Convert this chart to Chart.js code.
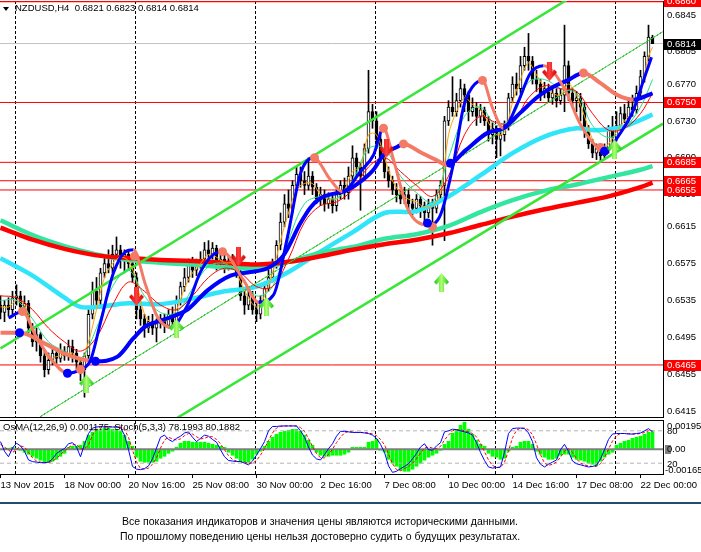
<!DOCTYPE html>
<html><head><meta charset="utf-8">
<script src="https://cdn.jsdelivr.net/npm/chart.js@4.4.1/dist/chart.umd.min.js"></script>
<style>
html,body{margin:0;padding:0;background:#fff;width:701px;height:552px;overflow:hidden;position:relative;font-family:"Liberation Sans",Arial,sans-serif;}
canvas{position:absolute;left:0;}
#c1{top:0;width:701px;height:419px;}
#c2{top:418px;width:701px;height:82px;}
.t{position:absolute;white-space:nowrap;color:#000;}
</style></head><body>
<canvas id="c1" width="701" height="419"></canvas>
<canvas id="c2" width="701" height="82"></canvas>
<div id="tri" style="position:absolute;left:3px;top:7px;width:0;height:0;border-left:3px solid transparent;border-right:3px solid transparent;border-top:4px solid #000;"></div>
<div class="t" style="left:15px;top:2px;font-size:9.5px;line-height:12px;">NZDUSD,H4&nbsp;&nbsp;0.6821 0.6823 0.6814 0.6814</div>
<div class="t" style="left:3px;top:421px;font-size:9.5px;line-height:12px;">OsMA(12,26,9) 0.001175&nbsp;&nbsp;Stoch(5,3,3) 78.1993 80.1882</div>
<div style="position:absolute;left:0;top:502px;width:701px;height:2px;background:#1f4e6e;"></div>
<div class="t" style="left:0;width:640px;text-align:center;top:514px;font-size:10.5px;line-height:15px;">Все показания индикаторов и значения цены являются историческими данными.<br>По прошлому поведению цены нельзя достоверно судить о будущих результатах.</div>
<script>
// ---------- DATA ----------
const opens=[0.6530,0.6522,0.6530,0.6525,0.6538,0.6540,0.6528,0.6532,0.6505,0.6490,
0.6498,0.6475,0.6460,0.6470,0.6478,0.6472,0.6480,0.6475,0.6485,0.6478,
0.6468,0.6460,0.6475,0.6520,0.6545,0.6535,0.6565,0.6575,0.6570,0.6585,
0.6590,0.6578,0.6585,0.6575,0.6560,0.6525,0.6515,0.6505,0.6512,0.6505,
0.6510,0.6515,0.6508,0.6520,0.6512,0.6535,0.6550,0.6560,0.6575,0.6568,
0.6575,0.6580,0.6590,0.6585,0.6592,0.6575,0.6580,0.6572,0.6578,0.6575,
0.6565,0.6540,0.6530,0.6540,0.6525,0.6520,0.6535,0.6548,0.6560,0.6575,
0.6595,0.6620,0.6640,0.6635,0.6660,0.6672,0.6665,0.6660,0.6670,0.6658,
0.6645,0.6650,0.6640,0.6645,0.6638,0.6650,0.6660,0.6652,0.6670,0.6690,
0.6680,0.6670,0.6700,0.6740,0.6730,0.6710,0.6690,0.6675,0.6665,0.6655,
0.6650,0.6645,0.6650,0.6640,0.6635,0.6645,0.6638,0.6630,0.6640,0.6635,
0.6650,0.6660,0.6730,0.6745,0.6740,0.6752,0.6765,0.6758,0.6740,0.6745,
0.6735,0.6742,0.6730,0.6715,0.6722,0.6710,0.6715,0.6725,0.6755,0.6770,
0.6765,0.6790,0.6800,0.6795,0.6775,0.6770,0.6760,0.6765,0.6755,0.6760,
0.6752,0.6758,0.6790,0.6760,0.6752,0.6755,0.6745,0.6720,0.6705,0.6695,
0.6700,0.6692,0.6698,0.6720,0.6712,0.6725,0.6738,0.6732,0.6745,0.6742,
0.6760,0.6778,0.6800,0.6821];
const highs=[0.6540,0.6535,0.6538,0.6545,0.6552,0.6545,0.6540,0.6535,0.6510,0.6505,
0.6500,0.6480,0.6478,0.6485,0.6482,0.6488,0.6485,0.6492,0.6492,0.6482,
0.6472,0.6478,0.6525,0.6555,0.6560,0.6570,0.6585,0.6590,0.6595,0.6604,
0.6595,0.6590,0.6590,0.6580,0.6565,0.6530,0.6520,0.6518,0.6520,0.6515,
0.6520,0.6520,0.6525,0.6528,0.6540,0.6555,0.6570,0.6580,0.6582,0.6580,
0.6588,0.6598,0.6600,0.6598,0.6595,0.6585,0.6585,0.6582,0.6585,0.6580,
0.6570,0.6545,0.6548,0.6545,0.6535,0.6540,0.6555,0.6568,0.6580,0.6600,
0.6630,0.6650,0.6655,0.6665,0.6680,0.6680,0.6675,0.6690,0.6675,0.6662,
0.6658,0.6655,0.6652,0.6650,0.6655,0.6665,0.6668,0.6680,0.6703,0.6695,
0.6685,0.6705,0.6785,0.6748,0.6740,0.6715,0.6700,0.6680,0.6670,0.6662,
0.6655,0.6658,0.6655,0.6645,0.6650,0.6648,0.6642,0.6645,0.6645,0.6655,
0.6665,0.6735,0.6752,0.6778,0.6760,0.6775,0.6770,0.6762,0.6755,0.6750,
0.6748,0.6745,0.6735,0.6728,0.6725,0.6720,0.6730,0.6760,0.6778,0.6782,
0.6800,0.6810,0.6825,0.6800,0.6785,0.6775,0.6772,0.6770,0.6768,0.6765,
0.6765,0.6834,0.6795,0.6765,0.6762,0.6760,0.6750,0.6725,0.6710,0.6705,
0.6705,0.6705,0.6725,0.6735,0.6740,0.6745,0.6748,0.6752,0.6758,0.6768,
0.6785,0.6805,0.6834,0.6823];
const lows=[0.6515,0.6512,0.6518,0.6520,0.6530,0.6522,0.6520,0.6500,0.6485,0.6480,
0.6468,0.6452,0.6455,0.6465,0.6466,0.6468,0.6470,0.6470,0.6468,0.6460,
0.6448,0.6430,0.6470,0.6515,0.6530,0.6530,0.6560,0.6565,0.6565,0.6580,
0.6570,0.6565,0.6568,0.6555,0.6515,0.6508,0.6495,0.6500,0.6498,0.6490,
0.6505,0.6500,0.6505,0.6508,0.6510,0.6530,0.6545,0.6555,0.6560,0.6562,
0.6570,0.6575,0.6578,0.6580,0.6568,0.6570,0.6565,0.6568,0.6570,0.6560,
0.6535,0.6520,0.6525,0.6520,0.6512,0.6515,0.6530,0.6545,0.6555,0.6570,
0.6590,0.6615,0.6625,0.6630,0.6655,0.6658,0.6650,0.6655,0.6650,0.6640,
0.6638,0.6632,0.6635,0.6630,0.6632,0.6645,0.6645,0.6645,0.6665,0.6670,
0.6633,0.6665,0.6695,0.6722,0.6700,0.6685,0.6668,0.6658,0.6650,0.6642,
0.6640,0.6640,0.6632,0.6628,0.6630,0.6625,0.6620,0.6625,0.6595,0.6630,
0.6645,0.6600,0.6725,0.6735,0.6735,0.6745,0.6740,0.6730,0.6735,0.6725,
0.6728,0.6725,0.6708,0.6705,0.6690,0.6692,0.6708,0.6720,0.6750,0.6758,
0.6760,0.6785,0.6785,0.6770,0.6762,0.6752,0.6755,0.6750,0.6748,0.6745,
0.6748,0.6740,0.6752,0.6745,0.6740,0.6730,0.6712,0.6700,0.6690,0.6688,
0.6685,0.6690,0.6695,0.6705,0.6708,0.6720,0.6728,0.6728,0.6735,0.6738,
0.6755,0.6772,0.6795,0.6814];
const closes=[0.6522,0.6530,0.6525,0.6538,0.6540,0.6528,0.6532,0.6505,0.6490,0.6498,
0.6475,0.6460,0.6470,0.6478,0.6472,0.6480,0.6475,0.6485,0.6478,0.6468,
0.6460,0.6475,0.6520,0.6545,0.6535,0.6565,0.6575,0.6570,0.6585,0.6590,
0.6578,0.6585,0.6575,0.6560,0.6525,0.6515,0.6505,0.6512,0.6505,0.6510,
0.6515,0.6508,0.6520,0.6512,0.6535,0.6550,0.6560,0.6575,0.6568,0.6575,
0.6580,0.6590,0.6585,0.6592,0.6575,0.6580,0.6572,0.6578,0.6575,0.6565,
0.6540,0.6530,0.6540,0.6525,0.6520,0.6535,0.6548,0.6560,0.6575,0.6595,
0.6620,0.6640,0.6635,0.6660,0.6672,0.6665,0.6660,0.6670,0.6658,0.6645,
0.6650,0.6640,0.6645,0.6638,0.6650,0.6660,0.6652,0.6670,0.6690,0.6680,
0.6670,0.6700,0.6740,0.6730,0.6710,0.6690,0.6675,0.6665,0.6655,0.6650,
0.6645,0.6650,0.6640,0.6635,0.6645,0.6638,0.6630,0.6640,0.6635,0.6650,
0.6660,0.6730,0.6745,0.6740,0.6752,0.6765,0.6758,0.6740,0.6745,0.6735,
0.6742,0.6730,0.6715,0.6722,0.6710,0.6715,0.6725,0.6755,0.6770,0.6765,
0.6790,0.6800,0.6795,0.6775,0.6770,0.6760,0.6765,0.6755,0.6760,0.6752,
0.6758,0.6790,0.6760,0.6752,0.6755,0.6745,0.6720,0.6705,0.6695,0.6700,
0.6692,0.6698,0.6720,0.6712,0.6725,0.6738,0.6732,0.6745,0.6742,0.6760,
0.6778,0.6800,0.6821,0.6814];

// long moving averages (bar index, price)
const longIdx=[0,8,16,24,32,40,48,56,64,72,80,88,96,104,112,120,128,136,144,152,160,163];
const maRed=[0.6614,0.6601,0.6591,0.6584,0.6581,0.6579,0.6578,0.6576,0.6574,0.6577,0.6583,0.6590,0.6596,0.6601,0.6608,0.6617,0.6626,0.6634,0.6641,0.6648,0.6658,0.6663];
const maAqua=[0.6622,0.6606,0.6594,0.6585,0.6579,0.6576,0.6574,0.6571,0.6570,0.6577,0.6587,0.6593,0.6602,0.6607,0.6616,0.6631,0.6644,0.6654,0.6661,0.6669,0.6677,0.6681];
const cyanIdx=[0,8,16,20,24,32,40,48,56,64,72,80,88,96,104,112,120,128,136,144,148,152,156,160,163];
const maCyan=[0.6581,0.6562,0.6538,0.6528,0.6528,0.6532,0.6531,0.6537,0.6545,0.6550,0.6566,0.6588,0.6609,0.6630,0.6632,0.6648,0.6671,0.6695,0.6713,0.6722,0.6720,0.6721,0.6724,0.6731,0.6737];

// fast moving averages
const orangeIdx=[0,2,4,6,8,10,12,14,16,18,20,22,24,26,28,30,32,34,36,38,40,42,44,46,48,50,52,54,56,58,60,62,64,66,68,70,72,74,76,78,80,82,84,86,88,90,92,94,96,98,100,102,104,106,108,110,112,114,116,118,120,122,124,126,128,130,132,134,136,138,140,142,144,146,148,150,152,154,156,158,160,162,163];
const maOrange=[0.6528,0.6528,0.6535,0.6530,0.6505,0.6488,0.6472,0.6474,0.6476,0.6478,
0.6468,0.6490,0.6525,0.6560,0.6575,0.6582,0.6578,0.6555,0.6520,0.6510,
0.6512,0.6514,0.6525,0.6548,0.6565,0.6575,0.6585,0.6582,0.6576,0.6575,
0.6555,0.6538,0.6528,0.6540,0.6565,0.6600,0.6630,0.6655,0.6662,0.6662,
0.6650,0.6645,0.6645,0.6655,0.6675,0.6680,0.6715,0.6715,0.6690,0.6665,
0.6652,0.6645,0.6642,0.6636,0.6638,0.6652,0.6715,0.6740,0.6755,0.6748,
0.6742,0.6728,0.6715,0.6718,0.6750,0.6775,0.6793,0.6780,0.6767,0.6760,
0.6758,0.6770,0.6758,0.6735,0.6710,0.6697,0.6705,0.6718,0.6730,0.6740,
0.6762,0.6800,0.6810];
const thinIdx=[0,4,8,12,16,20,24,28,32,36,40,44,48,52,56,60,64,68,72,76,80,84,88,92,96,100,104,108,112,116,120,124,128,132,136,140,144,148,152,156,160,163];
const maGreenThin=[0.6535,0.6535,0.6515,0.6490,0.6480,0.6472,0.6505,0.6550,0.6568,0.6540,
0.6522,0.6522,0.6548,0.6572,0.6575,0.6562,0.6540,0.6550,0.6600,0.6640,
0.6648,0.6646,0.6665,0.6700,0.6700,0.6670,0.6652,0.6642,0.6690,0.6735,
0.6745,0.6725,0.6735,0.6772,0.6775,0.6765,0.6760,0.6725,0.6712,0.6722,
0.6745,0.6775];
const maRedThin=[0.6540,0.6538,0.6525,0.6505,0.6490,0.6480,0.6495,0.6530,0.6555,0.6545,
0.6530,0.6525,0.6540,0.6560,0.6570,0.6565,0.6550,0.6550,0.6580,0.6620,
0.6638,0.6642,0.6655,0.6680,0.6690,0.6675,0.6660,0.6648,0.6670,0.6715,
0.6735,0.6728,0.6728,0.6755,0.6768,0.6765,0.6762,0.6738,0.6720,0.6722,
0.6738,0.6760];

// two-colour trend lines (blue rising / salmon falling)
const fastIdx=[2,5.5,8.75,12.5,16.75,20,22.5,25,28.25,31.25,33.25,36.25,39.25,42.5,46.75,50,53.25,55.5,60.75,64.5,68.25,71.75,75,78.25,82.5,85.5,90,93.25,95.75,98.25,101.75,106.75,110,113.25,115.75,118,120.5,123,125.75,129.25,132.5,135.75,140.75,145,149.25,151,155,158.25,160.75,162.75];
const fastVal=[0.6516,0.6523,0.6497,0.6472,0.6456,0.6460,0.6470,0.6511,0.6565,0.6588,0.6590,0.6552,0.6517,0.6506,0.6530,0.6566,0.6585,0.6588,0.6557,0.6533,0.6541,0.6604,0.6673,0.6690,0.6666,0.6653,0.6675,0.6693,0.6722,0.6688,0.6635,0.6617,0.6628,0.6684,0.6745,0.6767,0.6774,0.6744,0.6722,0.6749,0.6782,0.6790,0.6767,0.6726,0.6701,0.6697,0.6717,0.6742,0.6774,0.6799];
const slowIdx=[0,5,10.75,16.75,20.5,23.75,29.25,33.25,36.25,39.25,43.25,46.75,51.75,57.5,62.5,66.75,70.75,75,77.5,80,86.75,90,93.25,95.75,99.25,100.75,105,108.75,111.75,116.25,121.75,125.75,130,134.25,138.25,141.75,145.75,150,154.25,158.25,163];
const slowVal=[0.6500,0.6500,0.6489,0.6476,0.6471,0.6469,0.6474,0.6494,0.6507,0.6512,0.6518,0.6525,0.6546,0.6562,0.6566,0.6570,0.6584,0.6619,0.6636,0.6646,0.6655,0.6664,0.6677,0.6693,0.6702,0.6705,0.6696,0.6688,0.6682,0.6698,0.6717,0.6722,0.6739,0.6756,0.6767,0.6774,0.6782,0.6771,0.6758,0.6753,0.6760];
const blueDotIdx=[4.75,16.75,23.75,106.75,112.5,151];
const blueDotVal=[0.6500,0.6456,0.6469,0.6619,0.6684,0.6697];
const salmonDotIdx=[5.5,20,33.5,55.5,78.5,95.75,100.75,108,120.5,145.75,150];
const salmonDotVal=[0.6523,0.6460,0.6583,0.6588,0.6690,0.6722,0.6705,0.6615,0.6774,0.6782,0.6701];

// signal arrows
const sellIdx=[34,59.5,96.5,137.25];
const sellVal=[0.6539,0.6582,0.6700,0.6783];
const buyIdx=[21.5,44,66.5,110.25,153.5];
const buyVal=[0.6445,0.6505,0.6529,0.6555,0.6700];

// channel (start/end index, price)
const chanUpIdx=[0,150], chanUpVal=[0.6483,0.6884];
const chanLoIdx=[40,165.625], chanLoVal=[0.63965,0.6727];
const chanMidIdx=[10,165.625], chanMidVal=[0.6409,0.6827];

// horizontal levels
const levelPrices=[0.6860,0.6750,0.6685,0.6665,0.6655,0.6465];
const yTicks=[0.6845,0.6805,0.6770,0.6730,0.6690,0.6650,0.6615,0.6575,0.6535,0.6495,0.6455,0.6415];

// oscillator
const osma=[0,0.00007,0.00007,0.00013,0.00007,-0.00007,-0.0002,-0.00033,-0.00047,-0.0006,
-0.00073,-0.00087,-0.00087,-0.0008,-0.00067,-0.00047,-0.00027,0.00013,0.0002,0.0002,
0.00027,0.00053,0.00093,0.00113,0.00127,0.00133,0.0014,0.0014,0.00133,0.00133,
0.0012,0.00093,0.00053,0.0002,-0.00053,-0.0008,-0.00087,-0.00087,-0.00087,-0.0008,
-0.0006,-0.00047,-0.00027,-0.00013,0.00013,0.0004,0.00053,0.00053,0.00047,0.00047,
0.00047,0.00047,0.0004,0.00033,0.00027,0.0002,0.00013,-0.0002,-0.0004,-0.0006,
-0.0008,-0.00087,-0.00087,-0.00067,-0.00033,-0.00013,0.0002,0.00053,0.0008,0.001,
0.00113,0.0012,0.00127,0.00133,0.00133,0.0012,0.00093,0.0006,0.00027,-0.0002,
-0.0004,-0.00047,-0.00047,-0.0004,-0.0004,-0.0004,-0.00033,-0.0002,0.00013,0.00013,
0.00013,0.00013,0.00047,0.00053,0.00067,-0.00007,-0.0002,-0.00067,-0.00093,-0.00113,
-0.0014,-0.00147,-0.00147,-0.00133,-0.00113,-0.00093,-0.00073,-0.00053,-0.0004,-0.00027,
-0.00007,0.00033,0.00053,0.00107,0.00133,0.0016,0.0018,0.00133,0.001,0.0006,
0.00033,0.0002,-0.00027,-0.00047,-0.00053,-0.00067,-0.0006,-0.00013,0.00013,0.0002,
0.00047,0.00053,0.00053,0.00033,-0.00013,-0.00033,-0.00053,-0.00067,-0.00067,-0.0006,
-0.0004,-0.00033,-0.00033,-0.00053,-0.00067,-0.00073,-0.0008,-0.00093,-0.001,-0.00107,
-0.0008,-0.00053,-0.00033,-0.0002,0.00027,0.0004,0.00053,0.0006,0.00073,0.0008,
0.00087,0.001,0.00113,0.001175];
const stochMain=[60,42,32,48,57,52,42,26,23,22,
21,21,22,28,38,43,47,56,58,50,
32,55,75,85,87,88,87,88,87,87,
86,72,45,14,9,8,10,15,28,48,
68,72,64,60,66,70,76,78,68,60,
66,72,70,64,59,45,32,25,24,23,
23,20,17,24,35,47,60,80,88,88,
89,89,89,89,89,80,68,50,35,28,
26,36,47,56,70,79,79,78,77,77,
77,76,75,72,66,55,40,15,3,5,
10,14,19,28,38,50,56,45,44,52,
58,78,80,83,82,80,78,76,72,58,
40,25,13,11,12,13,40,75,84,85,
85,84,76,60,30,18,13,18,22,26,
45,55,42,24,19,17,15,13,14,16,
28,45,64,74,75,75,75,74,74,75,
76,80,84,78.1993];
const stochSignal=[55,50,44,40,45,52,50,40,30,24,
22,21,21,24,29,36,43,49,54,55,
47,46,54,72,82,87,87,87,87,87,
87,82,68,44,23,10,9,11,18,30,
48,63,68,65,63,65,71,75,74,69,
65,66,69,69,64,56,45,34,27,24,
23,22,20,20,25,35,47,62,76,85,
88,89,89,89,89,86,79,66,51,38,
30,30,36,46,58,68,76,79,78,77,
77,77,76,74,71,64,54,37,19,8,
6,10,14,20,28,39,48,50,48,47,
51,63,72,80,82,82,80,78,75,69,
57,41,26,16,12,12,22,43,67,81,
85,85,82,73,55,36,20,16,18,22,
31,42,47,40,28,20,17,15,14,14,
19,30,46,61,71,75,75,75,74,74,
75,77,80,80.1882];
const stochLevels=[80,20];

// time axis
const gridIdx=[3.75,33.75,63.75,93.75,123.75,153.75];
const labelIdx=[0,16,32,48,64,80,96,112,128,144,160];
const xLabels=["13 Nov 2015","18 Nov 00:00","20 Nov 16:00","25 Nov 08:00","30 Nov 00:00","2 Dec 16:00","7 Dec 08:00","10 Dec 00:00","14 Dec 16:00","17 Dec 08:00","22 Dec 00:00"];

// ---------- RENDER ----------
const X_MIN=-0.125, X_MAX=165.625;
const BLUE='#0000ff', SALMON='#f47a66';
const FONT='"Liberation Sans", Arial, sans-serif';
Chart.defaults.font.family=FONT;

const pts=(idx,vals)=>idx.map((x,k)=>({x:x,y:vals[k]}));
function lineDS(data,color,width,order,extra){
  return Object.assign({type:'line',data:data,borderColor:color,borderWidth:width,pointRadius:0,fill:false,tension:0.35,order:order},extra||{});
}
function makeArrow(up,c1,c2){
  const w=15,h=20,cv=document.createElement('canvas');cv.width=w;cv.height=h;
  const g=cv.getContext('2d');
  const shape=[[5,0],[10,0],[10,10],[12.5,7.5],[15,10],[7.5,19],[0,10],[2.5,7.5],[5,10]];
  g.beginPath();
  shape.forEach(([x,y],k)=>{const yy=up?h-y:y;k?g.lineTo(x,yy):g.moveTo(x,yy);});
  g.closePath();
  const gr=g.createLinearGradient(0,0,w,0);
  gr.addColorStop(0,c1);gr.addColorStop(0.5,c2);gr.addColorStop(1,c1);
  g.fillStyle=gr;g.fill();
  return cv;
}
const barIdx=opens.map((_,i)=>i);
const lastClose=closes[closes.length-1];

const mainDS=[];
levelPrices.forEach((p,k)=>mainDS.push(lineDS([{x:X_MIN,y:p},{x:X_MAX,y:p}],'#ff0000',k===0?2:1,9,{tension:0})));
mainDS.push(lineDS([{x:X_MIN,y:lastClose},{x:X_MAX,y:lastClose}],'#c0c0c0',1,9,{tension:0}));
mainDS.push({type:'bar',data:barIdx.map(i=>({x:i,y:[lows[i],highs[i]]})),backgroundColor:'#000',borderWidth:0,barThickness:1,grouped:false,order:8});
mainDS.push({type:'bar',data:barIdx.map(i=>({x:i,y:[opens[i],closes[i]]})),backgroundColor:barIdx.map(i=>closes[i]>=opens[i]?'#ffffff':'#000000'),borderColor:'#000',borderWidth:1,borderSkipped:false,barThickness:3,grouped:false,minBarLength:1,order:7});
mainDS.push(lineDS(pts(longIdx,maRed),'#ff0000',4.5,6));
mainDS.push(lineDS(pts(longIdx,maAqua),'#33e6a0',4.5,6));
mainDS.push(lineDS(pts(cyanIdx,maCyan),'#30e4fa',4.5,6));
mainDS.push(lineDS(pts(chanUpIdx,chanUpVal),'#37e637',2.5,5,{tension:0}));
mainDS.push(lineDS(pts(chanLoIdx,chanLoVal),'#37e637',2.5,5,{tension:0}));
mainDS.push(lineDS(pts(chanMidIdx,chanMidVal),'#37e637',1,5,{tension:0}));
mainDS.push(lineDS(pts(chanMidIdx,chanMidVal),'#000000',1,5,{tension:0,borderDash:[2,2]}));
mainDS.push(lineDS(pts(thinIdx,maRedThin),'#ff0000',1,4));
mainDS.push(lineDS(pts(thinIdx,maGreenThin),'#20e090',1,4));
mainDS.push(lineDS(pts(orangeIdx,maOrange),'#ffa500',1,4));
const twoColor={cubicInterpolationMode:'monotone',segment:{borderColor:c=>c.p1.parsed.y>c.p0.parsed.y?BLUE:SALMON}};
mainDS.push(lineDS(pts(slowIdx,slowVal),BLUE,4,3,twoColor));
mainDS.push(lineDS(pts(fastIdx,fastVal),BLUE,3,2,twoColor));
mainDS.push({type:'line',data:pts(blueDotIdx,blueDotVal),showLine:false,pointRadius:4.5,pointBackgroundColor:BLUE,pointBorderWidth:0,order:1});
mainDS.push({type:'line',data:pts(salmonDotIdx,salmonDotVal),showLine:false,pointRadius:4.5,pointBackgroundColor:SALMON,pointBorderWidth:0,order:1});
mainDS.push({type:'line',data:pts(sellIdx,sellVal),showLine:false,pointStyle:makeArrow(false,'#d00000','#ff4040'),pointRadius:9,order:0});
mainDS.push({type:'line',data:pts(buyIdx,buyVal),showLine:false,pointStyle:makeArrow(true,'#10c810','#b0ff70'),pointRadius:9,order:0});

const mainLabels={id:'mainLabels',afterDraw(chart){
  const {ctx,chartArea:a,scales:{y}}=chart;
  ctx.save();ctx.font='9.5px '+FONT;ctx.textBaseline='middle';
  levelPrices.forEach(p=>{
    const py=Math.round(y.getPixelForValue(p));
    ctx.fillStyle='#ff0000';ctx.fillRect(a.right+1,py-5,38,11);
    ctx.fillStyle='#ffffff';ctx.fillText(p.toFixed(4),a.right+4,py+0.5);
  });
  const cy=Math.round(y.getPixelForValue(lastClose));
  ctx.fillStyle='#000';ctx.fillRect(a.right+1,cy-5,38,11);
  ctx.fillStyle='#fff';ctx.fillText(lastClose.toFixed(4),a.right+4,cy+0.5);
  ctx.restore();
}};

new Chart(document.getElementById('c1'),{
  type:'line',
  data:{datasets:mainDS},
  options:{responsive:false,animation:false,devicePixelRatio:1,events:[],
    layout:{autoPadding:false,padding:{top:1,bottom:2,left:0,right:0}},
    plugins:{legend:{display:false},tooltip:{enabled:false}},
    scales:{
      x:{type:'linear',min:X_MIN,max:X_MAX,offset:false,position:'bottom',
        afterBuildTicks(s){s.ticks=gridIdx.map(v=>({value:v}));},
        afterFit(s){s.height=0;s.paddingLeft=0;s.paddingRight=0;},
        ticks:{display:false},
        grid:{display:true,offset:false,drawTicks:false,color:'#000',lineWidth:1},
        border:{display:true,color:'#000',width:1,dash:[3,2]}},
      y:{position:'right',min:0.640847,max:0.68602,
        afterBuildTicks(s){s.ticks=yTicks.map(v=>({value:v}));},
        afterFit(s){s.width=38;s.paddingTop=0;s.paddingBottom=0;},
        ticks:{autoSkip:false,padding:4,color:'#000',font:{size:9.5},callback:v=>Number(v).toFixed(4)},
        grid:{display:false,drawTicks:false},
        border:{display:true,color:'#000',width:1}}
    }},
  plugins:[mainLabels]
});

// oscillator
const oscDS=[];
oscDS.push({type:'bar',data:pts(barIdx,osma),yAxisID:'yo',backgroundColor:'#00ff00',borderWidth:0,barThickness:3,grouped:false,order:5});
oscDS.push(lineDS([{x:X_MIN,y:0},{x:X_MAX,y:0}],'#808080',2,4,{yAxisID:'yo',tension:0}));
stochLevels.forEach(v=>oscDS.push(lineDS([{x:X_MIN,y:v},{x:X_MAX,y:v}],'#b4b4b4',1,4,{yAxisID:'ys',tension:0,borderDash:[4,3]})));
oscDS.push(lineDS(pts(barIdx,stochSignal),'#ff0000',1,1,{yAxisID:'ys',tension:0,borderDash:[3,2]}));
oscDS.push(lineDS(pts(barIdx,stochMain),'#0000ff',1,0,{yAxisID:'ys',tension:0}));

const oscLabels={id:'oscLabels',afterDraw(chart){
  const {ctx,chartArea:a,scales:{yo,ys}}=chart;
  ctx.save();ctx.font='9.5px '+FONT;ctx.textBaseline='middle';ctx.fillStyle='#000';
  const xl=a.right+4;
  ctx.fillText('0.00195',xl,yo.getPixelForValue(0.00195)+6);
  ctx.fillText('80',xl,ys.getPixelForValue(80)+1);
  ctx.fillStyle='#808080';ctx.fillRect(a.right+2,Math.round(yo.getPixelForValue(0))-4,6,9);
  ctx.fillStyle='#000';
  ctx.fillText('0.00',xl,yo.getPixelForValue(0)+0.5);
  ctx.fillText('20',xl,ys.getPixelForValue(20)+1);
  ctx.fillText('-0.00165',a.right+2,yo.getPixelForValue(-0.00165)-4);
  ctx.restore();
}};

new Chart(document.getElementById('c2'),{
  type:'line',
  data:{datasets:oscDS},
  options:{responsive:false,animation:false,devicePixelRatio:1,events:[],
    layout:{autoPadding:false,padding:{top:2,bottom:0,left:0,right:0}},
    plugins:{legend:{display:false},tooltip:{enabled:false}},
    scales:{
      x:{type:'linear',min:X_MIN,max:X_MAX,offset:false,position:'bottom',
        afterBuildTicks(s){s.ticks=labelIdx.map(v=>({value:v}));},
        afterFit(s){s.height=26;s.paddingLeft=0;s.paddingRight=0;},
        ticks:{autoSkip:false,maxRotation:0,align:'start',padding:2,color:'#000',font:{size:9.5},
          callback:(v,k)=>xLabels[k]},
        grid:{display:true,offset:false,drawOnChartArea:false,drawTicks:true,tickLength:4,color:'#000'},
        border:{display:true,color:'#000',width:1}},
      xg:{type:'linear',min:X_MIN,max:X_MAX,offset:false,position:'top',
        afterBuildTicks(s){s.ticks=gridIdx.map(v=>({value:v}));},
        afterFit(s){s.height=0;s.paddingLeft=0;s.paddingRight=0;},
        ticks:{display:false},
        grid:{display:true,offset:false,drawTicks:false,color:'#000',lineWidth:1},
        border:{display:true,color:'#000',width:1,dash:[3,2]}},
      yo:{position:'right',min:-0.00165,max:0.00195,
        afterFit(s){s.width=38;s.paddingTop=0;s.paddingBottom=0;},
        ticks:{display:false},grid:{display:false,drawTicks:false},
        border:{display:true,color:'#000',width:1}},
      ys:{display:false,min:0,max:100}
    }},
  plugins:[oscLabels]
});
</script>
</body></html>
